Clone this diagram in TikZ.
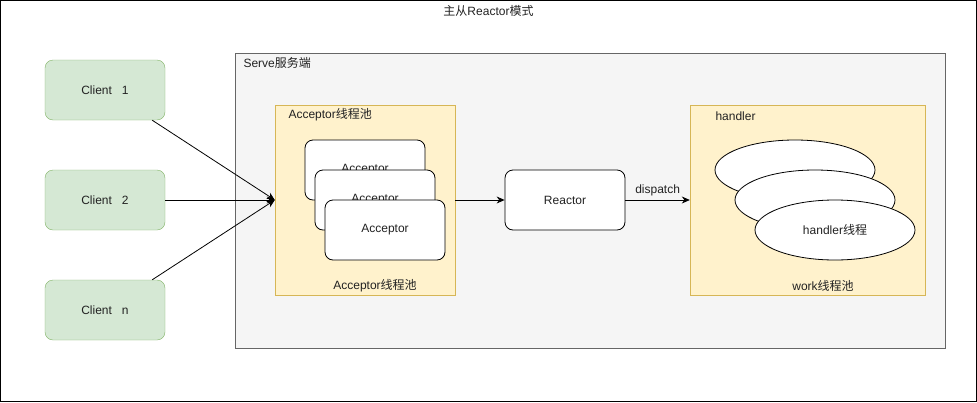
\documentclass[tikz,border=0pt]{standalone}
\usepackage{fontspec}
\setmainfont{Liberation Sans}
\newfontfamily\cjk{Noto Sans CJK SC}
\usetikzlibrary{arrows.meta,shapes.geometric}

\definecolor{clientfill}{HTML}{D5E8D4}
\definecolor{clientline}{HTML}{82B366}
\definecolor{servefill}{HTML}{F5F5F5}
\definecolor{serveline}{HTML}{666666}
\definecolor{poolfill}{HTML}{FFF2CC}
\definecolor{poolline}{HTML}{D6B656}
\definecolor{ink}{HTML}{222222}

\tikzset{
  client/.style={draw=clientline, fill=clientfill, rounded corners=8pt,
    minimum width=120pt, minimum height=60pt, inner sep=0pt, text=ink},
  pool/.style={draw=poolline, fill=poolfill, minimum width=180pt,
    minimum height=190pt, inner sep=0pt},
  acceptor/.style={draw=black, fill=white, rounded corners=8pt, line width=0.8pt,
    minimum width=120pt, minimum height=60pt, inner sep=0pt, text=ink},
  worker/.style={draw=black, fill=white, ellipse, line width=0.8pt,
    minimum width=160pt, minimum height=60pt, inner sep=0pt, text=ink},
  flow/.style={-{Stealth[length=8pt,width=7pt]}, line width=0.8pt},
}

\begin{document}
\begin{tikzpicture}[x=1pt,y=-1pt,font=\fontsize{12}{14}\selectfont]
\useasboundingbox (0,0) rectangle (977,402);
% draw outer frame and title
\draw[line width=1pt] (0.5,0.5) rectangle (976,401.5);
\node[text=ink] (title) at (488.5,11) {{\cjk 主从}Reactor{\cjk 模式}};

% draw server box
\node[draw=serveline, fill=servefill, minimum width=710pt, minimum height=295pt,
  inner sep=0pt] (serve) at (590,200.5) {};
\node[anchor=west, text=ink] (servelabel) at (240,63) {Serve{\cjk 服务端}};

% draw clients
\node[client] (c1) at (105,90) {Client~~~1};
\node[client] (c2) at (105,200) {Client~~~2};
\node[client] (cn) at (105,310) {Client~~~n};

% draw acceptor pool
\node[pool] (accpool) at (365,200) {};
\node[anchor=west, text=ink] (acclabel) at (285,115) {Acceptor{\cjk 线程池}};
\node[text=ink] (accname) at (375,286) {Acceptor{\cjk 线程池}};
\foreach \i/\x/\y in {1/365/170, 2/375/200, 3/385/230}
  \node[acceptor] (acc\i) at (\x,\y) {Acceptor};

% draw reactor
\node[acceptor] (reactor) at (565,200) {Reactor};

% draw work pool
\node[pool, minimum width=235pt] (workpool) at (807.5,200) {};
\node[anchor=west, text=ink] (worklabel) at (712,116) {handler};
\node[text=ink] (workname) at (823,286) {work{\cjk 线程池}};
\node[worker] (h1) at (795,170) {};
\node[worker] (h2) at (815,200) {};
\node[worker] (h3) at (835,230) {handler{\cjk 线程}};

% draw arrows
\draw[flow] ([xshift=-13pt]c1.south east) -- (accpool.west);
\draw[flow] (c2.east) -- (accpool.west);
\draw[flow] ([xshift=-13pt]cn.north east) -- (accpool.west);
\draw[flow] (accpool.east) -- (reactor.west);
\draw[flow] (reactor.east) -- node[above, text=ink] {dispatch} (workpool.west);
\end{tikzpicture}
\end{document}
